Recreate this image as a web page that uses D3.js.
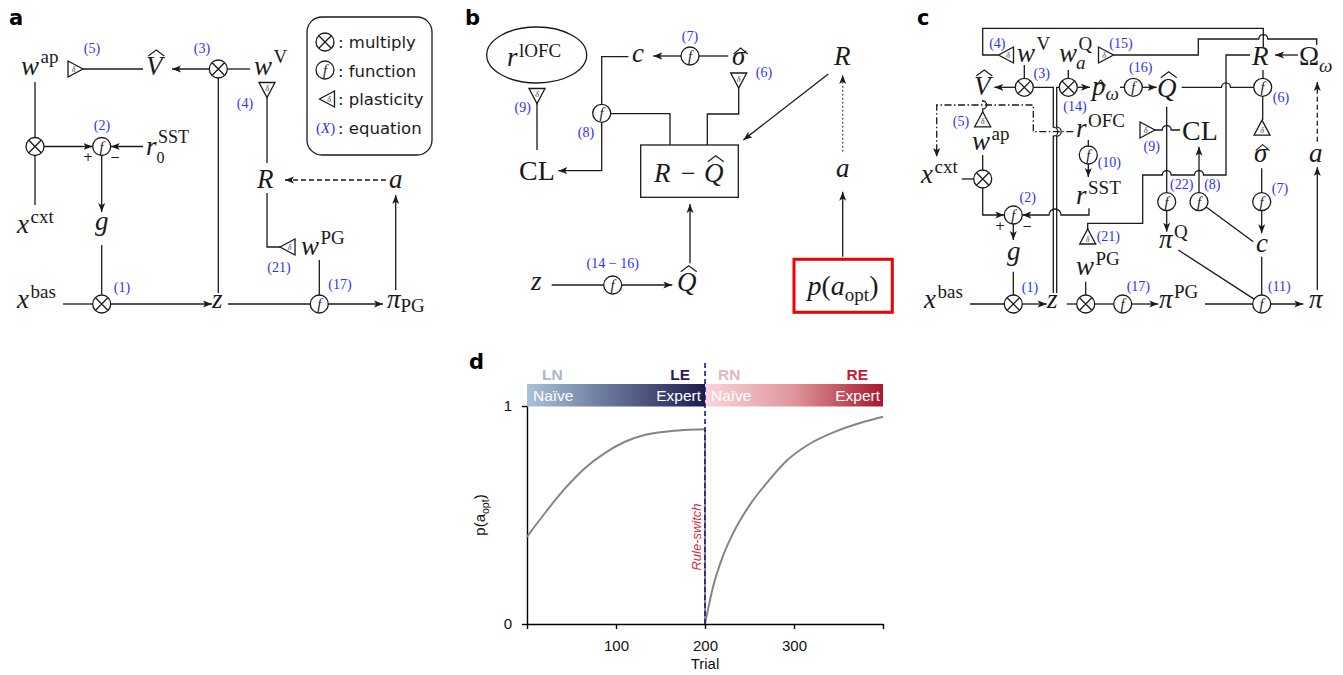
<!DOCTYPE html>
<html>
<head>
<meta charset="utf-8">
<script src="https://cdn.jsdelivr.net/npm/d3@7"></script>
<style>
  body { margin: 0; background: #fff; }
</style>
</head>
<body>
<svg id="fig" width="1343" height="675"></svg>
<script>
// ---- panel d data ----
var trialsLearn = [0, 20, 43, 65, 87, 110, 132, 155, 177, 200];
var pLearn = [0.40, 0.508, 0.623, 0.715, 0.783, 0.836, 0.867, 0.882, 0.890, 0.893];
var trialsReverse = [200, 201, 209, 220, 232, 251, 270, 292, 315, 345, 375, 400];
var pReverse = [0, 0.02, 0.17, 0.31, 0.42, 0.55, 0.65, 0.75, 0.82, 0.88, 0.923, 0.951];
var xTicks = [0, 100, 200, 300, 400];
var xTickLabels = ["", "100", "200", "300", ""];
var yTicks = [0, 1];
var switchTrial = 200;
var stageCodes = ["LN", "LE", "RN", "RE"];
var stageNames = ["Naïve", "Expert", "Naïve", "Expert"];

var svg = d3.select("#fig");
var SERIF = "'Liberation Serif', 'DejaVu Serif', serif";
var SANS = "'DejaVu Sans', sans-serif";
var ARIAL = "'Liberation Sans', Arial, sans-serif";
var INK = "#1a1a1a";
var BLUE = "#2f2fff";

// arrow head
var defs = svg.append("defs");
defs.append("marker")
  .attr("id", "arrow")
  .attr("viewBox", "0 -4 9 8")
  .attr("refX", 9).attr("refY", 0)
  .attr("markerWidth", 9).attr("markerHeight", 8)
  .attr("markerUnits", "userSpaceOnUse")
  .attr("orient", "auto")
  .append("path")
  .attr("d", "M0,-3.5L9,0L0,3.5L2.2,0Z")
  .attr("fill", INK);

// ---- small drawing helpers ----
function wire(g, d, o) {
  o = o || {};
  var p = g.append("path")
    .attr("d", d)
    .attr("fill", "none")
    .attr("stroke", o.color || INK)
    .attr("stroke-width", o.width || 1.3);
  if (o.arrow) p.attr("marker-end", "url(#arrow)");
  if (o.dash) p.attr("stroke-dasharray", o.dash);
  return p;
}

var HR = 4.5;
function hopRight(x, y, r) { r = r || HR; return "L" + (x - r) + "," + y + "A" + r + "," + r + " 0 0 1 " + (x + r) + "," + y; }
function hopLeft(x, y, r) { r = r || HR; return "L" + (x + r) + "," + y + "A" + r + "," + r + " 0 0 0 " + (x - r) + "," + y; }
function hopDown(x, y, r) { r = r || HR; return "L" + x + "," + (y - r) + "A" + r + "," + r + " 0 0 1 " + x + "," + (y + r); }

function mult(g, x, y) {
  g.append("circle").attr("cx", x).attr("cy", y).attr("r", 9)
    .attr("fill", "#fff").attr("stroke", INK).attr("stroke-width", 1.3);
  var k = 6.2;
  wire(g, "M" + (x - k) + "," + (y - k) + "L" + (x + k) + "," + (y + k) +
          "M" + (x - k) + "," + (y + k) + "L" + (x + k) + "," + (y - k));
}

function func(g, x, y) {
  g.append("circle").attr("cx", x).attr("cy", y).attr("r", 9)
    .attr("fill", "#fff").attr("stroke", INK).attr("stroke-width", 1.3);
  g.append("text").attr("x", x).attr("y", y + 5)
    .attr("text-anchor", "middle")
    .attr("font-family", SERIF).attr("font-style", "italic").attr("font-size", 15)
    .attr("fill", INK).text("f");
}

// plasticity triangle, dir = side the apex points to
function plast(g, x, y, dir) {
  var h = 7.5, b = 8, pts, tx = x, ty = y + 3;
  if (dir === "r") { pts = [[x - h, y - b], [x + h, y], [x - h, y + b]]; tx = x - 2; }
  if (dir === "l") { pts = [[x + h, y - b], [x - h, y], [x + h, y + b]]; tx = x + 2; }
  if (dir === "u") { pts = [[x - b, y + h], [x, y - h], [x + b, y + h]]; ty = y + 5; }
  if (dir === "d") { pts = [[x - b, y - h], [x, y + h], [x + b, y - h]]; ty = y + 1; }
  g.append("path").attr("d", "M" + pts.join("L") + "Z")
    .attr("fill", "#fff").attr("stroke", INK).attr("stroke-width", 1.3);
  g.append("text").attr("x", tx).attr("y", ty)
    .attr("text-anchor", "middle")
    .attr("font-family", SERIF).attr("font-style", "italic").attr("font-size", 8)
    .attr("fill", "#333").text("δ");
}

function eq(g, x, y, t) {
  g.append("text").attr("x", x).attr("y", y + 5)
    .attr("text-anchor", "middle")
    .attr("font-family", SERIF).attr("font-size", 14)
    .attr("fill", BLUE).text(t);
}

// math symbol with optional superscript / subscript / hat
function math(g, x, y, base, o) {
  o = o || {};
  var size = o.size || 27;
  var t = g.append("text").attr("x", x).attr("y", y)
    .attr("font-family", SERIF).attr("font-size", size)
    .attr("font-style", o.up ? "normal" : "italic")
    .attr("fill", INK).text(base);
  var w = t.node().getComputedTextLength();
  if (o.sup) {
    g.append("text").attr("x", x + w + (o.supDx || 1.5)).attr("y", y - (o.supDy || 12))
      .attr("font-family", SERIF).attr("font-size", o.supSize || 19)
      .attr("font-style", o.supIt ? "italic" : "normal")
      .attr("fill", INK).text(o.sup);
  }
  if (o.sub) {
    g.append("text").attr("x", x + w + (o.subDx || 0)).attr("y", y + (o.subDy || 6))
      .attr("font-family", SERIF).attr("font-size", o.subSize || 19)
      .attr("font-style", o.subIt ? "italic" : "normal")
      .attr("fill", INK).text(o.sub);
  }
  if (o.hat) {
    var cx = x + w / 2 + (o.up ? 0 : 2), ty = y - o.hat, hw = o.hatW || 8;
    wire(g, "M" + (cx - hw) + "," + (ty + 6) + "L" + cx + "," + ty + "L" + (cx + hw) + "," + (ty + 6), { width: 1.1 });
  }
}

function panelLetter(x, y, t) {
  svg.append("text").attr("x", x).attr("y", y)
    .attr("font-family", SANS).attr("font-weight", "bold").attr("font-size", 21)
    .attr("fill", "#000").text(t);
}

// =================== panel a ===================
var ga = svg.append("g");
panelLetter(9, 25, "a");

// wires
wire(ga, "M83,69L143,69");
wire(ga, "M209,69L172,69", { arrow: true });
wire(ga, "M227,69L250,69");
wire(ga, "M267,163L267,97.5");
wire(ga, "M386,180L285,180", { arrow: true, dash: "5,3" });
wire(ga, "M267,193L267,247L280,247");
wire(ga, "M319.3,260L319.3,295");
wire(ga, "M218.3,78L218.3,293");
wire(ga, "M63,304L92.7,304");
wire(ga, "M110.7,304L212,304", { arrow: true });
wire(ga, "M228,304L310.3,304");
wire(ga, "M328.3,304L383,304", { arrow: true });
wire(ga, "M395.7,290L395.7,195", { arrow: true });
wire(ga, "M101.7,245L101.7,294.3");
wire(ga, "M101.7,155L101.7,212", { arrow: true });
wire(ga, "M35,82L35,137.5");
wire(ga, "M35,155.5L35,205");
wire(ga, "M44,146.5L92.5,146.5", { arrow: true });
wire(ga, "M143,146.5L110.7,146.5", { arrow: true });

// nodes
plast(ga, 75.5, 69, "r");
mult(ga, 218.3, 69);
plast(ga, 267, 90, "d");
plast(ga, 287.5, 247, "l");
func(ga, 319.3, 304);
mult(ga, 101.7, 304);
func(ga, 101.7, 146.5);
mult(ga, 35, 146.5);

ga.append("text").attr("x", 88).attr("y", 161).attr("text-anchor", "middle")
  .attr("font-family", SANS).attr("font-size", 12).attr("fill", INK).text("+");
ga.append("text").attr("x", 115).attr("y", 161).attr("text-anchor", "middle")
  .attr("font-family", SANS).attr("font-size", 12).attr("fill", INK).text("−");

// symbols
math(ga, 21, 75, "w", { sup: "ap" });
math(ga, 146, 75, "V", { hat: 25 });
math(ga, 254, 75, "w", { sup: "V" });
math(ga, 257, 188, "R");
math(ga, 389, 188, "a");
math(ga, 301, 255, "w", { sup: "PG", supDy: 11 });
math(ga, 387, 308, "π", { sub: "PG", subDy: 4 });
math(ga, 212, 308, "z");
math(ga, 17, 308, "x", { sup: "bas", supDy: 10 });
math(ga, 95, 230, "g");
math(ga, 17, 233, "x", { sup: "cxt", supDy: 10 });
math(ga, 146, 155, "r", { sup: "SST", supDy: 12, supSize: 18, sub: "0", subDy: 8, subSize: 16 });

eq(ga, 92, 48, "(5)");
eq(ga, 202, 48, "(3)");
eq(ga, 245, 103, "(4)");
eq(ga, 102, 125, "(2)");
eq(ga, 279, 267, "(21)");
eq(ga, 122, 287, "(1)");
eq(ga, 340, 284, "(17)");

// legend
ga.append("rect").attr("x", 307).attr("y", 17).attr("width", 125).attr("height", 138)
  .attr("rx", 15).attr("fill", "#fff").attr("stroke", INK).attr("stroke-width", 1.3);
mult(ga, 325, 42);
func(ga, 325, 70);
plast(ga, 327, 99, "l");
var legendText = [": multiply", ": function", ": plasticity", ": equation"];
legendText.forEach(function(t, i) {
  ga.append("text").attr("x", 338).attr("y", 48 + i * 28.5)
    .attr("font-family", SANS).attr("font-size", 16.5).attr("fill", INK).text(t);
});
ga.append("text").attr("x", 316).attr("y", 133)
  .attr("font-family", SERIF).attr("font-size", 15).attr("fill", BLUE)
  .html("(<tspan font-style='italic'>X</tspan>)");

// =================== panel b ===================
var gb = svg.append("g");
panelLetter(465, 25, "b");

gb.append("ellipse").attr("cx", 536.7).attr("cy", 55).attr("rx", 50).attr("ry", 28)
  .attr("fill", "#fff").attr("stroke", INK).attr("stroke-width", 1.3);
math(gb, 507, 66, "r", { sup: "lOFC", supDy: 9 });

wire(gb, "M537,150L537,103");
wire(gb, "M601.7,122.3L601.7,170.7L558.3,170.7", { arrow: true });
wire(gb, "M628.3,56.7L601.7,56.7L601.7,104.3");
wire(gb, "M681,56L653.3,56", { arrow: true });
wire(gb, "M728.3,56L699,56");
wire(gb, "M738.7,88L738.7,114L707.3,114L707.3,145");
wire(gb, "M610.7,113.7L670,113.7L670,145");
wire(gb, "M828.3,74L743.3,140", { arrow: true });
wire(gb, "M842.7,151.7L842.7,75", { arrow: true, dash: "2,2", color: "#555" });
wire(gb, "M842.7,256.7L842.7,191.7", { arrow: true });
wire(gb, "M551.7,285L603.7,285");
wire(gb, "M621.7,285L672.3,285", { arrow: true });
wire(gb, "M690,263.3L690,204", { arrow: true });

plast(gb, 537, 96, "d");
func(gb, 601.7, 113.3);
func(gb, 690, 56);
plast(gb, 738.7, 80.5, "d");
func(gb, 612.7, 285);

gb.append("rect").attr("x", 640.7).attr("y", 145).attr("width", 97.6).attr("height", 52.3)
  .attr("fill", "#fff").attr("stroke", INK).attr("stroke-width", 1.3);
gb.append("rect").attr("x", 794).attr("y", 259.3).attr("width", 98.3).attr("height", 53)
  .attr("fill", "#fff").attr("stroke", "#ee0000").attr("stroke-width", 3);

math(gb, 519, 180, "CL", { up: true, size: 28 });
math(gb, 632, 62, "c");
math(gb, 732, 65, "σ", { hat: 17, hatW: 7 });
math(gb, 834, 65, "R");
math(gb, 836, 177, "a");
math(gb, 654, 181.7, "R");
gb.append("text").attr("x", 681).attr("y", 181.7)
  .attr("font-family", SERIF).attr("font-size", 26).attr("fill", INK).text("−");
math(gb, 704, 181.7, "Q", { hat: 26 });
math(gb, 531, 290, "z");
math(gb, 677, 290.7, "Q", { hat: 25 });
gb.append("text").attr("x", 843).attr("y", 295).attr("text-anchor", "middle")
  .attr("font-family", SERIF).attr("font-size", 28).attr("fill", INK)
  .html("<tspan font-style='italic'>p</tspan>(<tspan font-style='italic'>a</tspan>" +
        "<tspan font-size='19' dy='6'>opt</tspan><tspan dy='-6'>)</tspan>");

eq(gb, 522.7, 107, "(9)");
eq(gb, 586, 132, "(8)");
eq(gb, 690, 36, "(7)");
eq(gb, 764, 72, "(6)");
eq(gb, 612.7, 263, "(14 − 16)");

// =================== panel c ===================
var gc = svg.append("g");
panelLetter(917, 25, "c");

// long routed wires
wire(gc, "M998.3,55L982.7,55L982.7,28.3L1263.3,28.3L1263.3,47");
wire(gc, "M1316.7,45L1316.7,39" + hopLeft(1263.3, 39) + "L1198.3,39L1198.3,55L1113.3,55");
wire(gc, "M1298,55L1275,55", { arrow: true });
wire(gc, "M1250,55L1226,55L1226,175" + hopLeft(1199, 175) + hopLeft(1166.7, 175) +
         "L1142.7,175L1142.7,223.3L1087.7,223.3L1087.7,229");
wire(gc, "M1263,70L1263,78.3");
wire(gc, "M1181.7,87.3" + hopRight(1226, 87.3) + "L1253.7,87.3");
wire(gc, "M1262.7,96.3L1262.7,120");
wire(gc, "M1261.7,168.3L1261.7,192.7");
wire(gc, "M1261.7,210.7L1261.7,233.3", { arrow: true });
wire(gc, "M1261.7,256.7L1261.7,295");
wire(gc, "M1253.3,241.7L1206.2,207.1");
wire(gc, "M1199,192.7L1199,146.7", { arrow: true });
wire(gc, "M1166.7,106.7L1166.7,192.7");
wire(gc, "M1166.7,210.7L1166.7,231.7", { arrow: true });
wire(gc, "M1178.3,250L1254.1,299.1");
wire(gc, "M1155,130" + hopRight(1166.7, 130) + "L1180,130");
wire(gc, "M1142.3,87.3L1156.7,87.3", { arrow: true });
wire(gc, "M1120,87.3L1124.3,87.3");
wire(gc, "M1077.3,87.3L1090,87.3", { arrow: true });
wire(gc, "M1068.3,70L1068.3,78.3");
wire(gc, "M1024.3,65L1024.3,78.3");
wire(gc, "M1015.3,87.3L994.3,87.3", { arrow: true });
// double line from z
wire(gc, "M1033.3,87.3L1053.3,87.3" + hopDown(1053.3, 131.7) + "L1053.3,293");
wire(gc, "M1059.3,87.3L1056.7,87.3" + hopDown(1056.7, 131.7) + "L1056.7,293");
wire(gc, "M982.7,100" + hopDown(982.7, 105, 4) + "L982.7,111.7");
wire(gc, "M1073.3,131.7L1033.3,131.7L1033.3,105L936.7,105L936.7,157", { arrow: true, dash: "7,2.5,1.5,2.5" });
wire(gc, "M982.7,155L982.7,170");
wire(gc, "M961.7,179L973.7,179");
wire(gc, "M982.7,188L982.7,215L1004.3,215", { arrow: true });
wire(gc, "M1088.3,140L1088.3,146");
wire(gc, "M1088.3,164L1088.3,177", { arrow: true });
wire(gc, "M1089,208.3L1089,215" + hopLeft(1055, 215, 6) + "L1022.3,215", { arrow: true });
wire(gc, "M1013.3,224L1013.3,240", { arrow: true });
wire(gc, "M1013.3,271.7L1013.3,295");
wire(gc, "M970,304L1004.3,304");
wire(gc, "M1022.3,304L1046.7,304", { arrow: true });
wire(gc, "M1066.7,304L1076.7,304");
wire(gc, "M1085.7,281.7L1085.7,295");
wire(gc, "M1094.7,304L1113.7,304");
wire(gc, "M1131.7,304L1158.3,304", { arrow: true });
wire(gc, "M1205,304L1252.7,304");
wire(gc, "M1270.7,304L1303.3,304", { arrow: true });
wire(gc, "M1317.3,290L1317.3,167", { arrow: true });
wire(gc, "M1317.3,141.7L1317.3,82", { arrow: true, dash: "5,3" });

// operators
mult(gc, 1024.3, 87.3);
mult(gc, 1068.3, 87.3);
func(gc, 1133.3, 87.3);
func(gc, 1262.7, 87.3);
func(gc, 1088.3, 155);
mult(gc, 982.7, 179);
func(gc, 1013.3, 215);
func(gc, 1166.7, 201.7);
func(gc, 1199, 201.7);
func(gc, 1261.7, 201.7);
mult(gc, 1013.3, 304);
mult(gc, 1085.7, 304);
func(gc, 1122.7, 304);
func(gc, 1261.7, 304);

plast(gc, 1006, 55, "l");
plast(gc, 1106, 55, "r");
plast(gc, 982.7, 119.3, "u");
plast(gc, 1147.5, 130, "r");
plast(gc, 1262, 127.7, "u");
plast(gc, 1087.7, 236.5, "u");

gc.append("text").attr("x", 1000).attr("y", 230).attr("text-anchor", "middle")
  .attr("font-family", SANS).attr("font-size", 12).attr("fill", INK).text("+");
gc.append("text").attr("x", 1027).attr("y", 230).attr("text-anchor", "middle")
  .attr("font-family", SANS).attr("font-size", 12).attr("fill", INK).text("−");

// symbols
math(gc, 1017, 61.7, "w", { sup: "V" });
math(gc, 1059, 61.7, "w", { sup: "Q", sub: "a", subIt: true, subDx: -1, subDy: 7 });
math(gc, 974, 95, "V", { hat: 25 });
math(gc, 1092, 95, "p", { sub: "ω", subIt: true, subDy: 5, hat: 15, hatW: 5 });
math(gc, 1157, 96.7, "Q", { hat: 25 });
math(gc, 1252, 65, "R");
math(gc, 1299, 65, "Ω", { up: true, sub: "ω", subIt: true, subDy: 7 });
math(gc, 1076, 136.7, "r", { sup: "OFC", supDy: 10 });
math(gc, 1182, 140, "CL", { up: true, size: 28 });
math(gc, 1254, 161.7, "σ", { hat: 17, hatW: 7 });
math(gc, 1309, 161.7, "a");
math(gc, 972, 150, "w", { sup: "ap", supDy: 10 });
math(gc, 921, 183, "x", { sup: "cxt", supDy: 10 });
math(gc, 1076, 204, "r", { sup: "SST", supDy: 10 });
math(gc, 1007, 260, "g");
math(gc, 1159, 248.3, "π", { sup: "Q", supDy: 10 });
math(gc, 1256, 251.7, "c");
math(gc, 1076, 275, "w", { sup: "PG", supDy: 10 });
math(gc, 924, 308, "x", { sup: "bas", supDy: 10 });
math(gc, 1047, 308, "z");
math(gc, 1159, 308, "π", { sup: "PG", supDy: 10 });
math(gc, 1309, 308, "π");

eq(gc, 997.3, 43.3, "(4)");
eq(gc, 1041.7, 72.7, "(3)");
eq(gc, 1121, 43.3, "(15)");
eq(gc, 1140.7, 66.7, "(16)");
eq(gc, 1075, 106, "(14)");
eq(gc, 1281, 97.3, "(6)");
eq(gc, 961, 120.7, "(5)");
eq(gc, 1151.7, 146, "(9)");
eq(gc, 1109.3, 161.7, "(10)");
eq(gc, 1027.7, 196.7, "(2)");
eq(gc, 1181.7, 184.3, "(22)");
eq(gc, 1212.3, 184.3, "(8)");
eq(gc, 1280, 188.3, "(7)");
eq(gc, 1108.3, 235.7, "(21)");
eq(gc, 1030, 287.3, "(1)");
eq(gc, 1138.3, 285.7, "(17)");
eq(gc, 1279.3, 285.7, "(11)");

// =================== panel d ===================
var gd = svg.append("g");
panelLetter(469, 369, "d");

var x = d3.scaleLinear().domain([0, 400]).range([527, 883]);
var y = d3.scaleLinear().domain([0, 1]).range([624, 406]);

// stage gradients
var gradL = defs.append("linearGradient").attr("id", "gradL");
gradL.append("stop").attr("offset", "0%").attr("stop-color", "#a9c2d9");
gradL.append("stop").attr("offset", "100%").attr("stop-color", "#1d1c4e");
var gradR = defs.append("linearGradient").attr("id", "gradR");
gradR.append("stop").attr("offset", "0%").attr("stop-color", "#fad6da");
gradR.append("stop").attr("offset", "50%").attr("stop-color", "#df959c");
gradR.append("stop").attr("offset", "100%").attr("stop-color", "#a6192b");

gd.append("rect").attr("x", x(0)).attr("y", 384)
  .attr("width", x(switchTrial) - x(0)).attr("height", 22.5).attr("fill", "url(#gradL)");
gd.append("rect").attr("x", x(switchTrial)).attr("y", 384)
  .attr("width", x(400) - x(switchTrial)).attr("height", 22.5).attr("fill", "url(#gradR)");

var stageColors = ["#aab5cf", "#1f2154", "#e2b6bd", "#c8192f"];
var codeX = [x(0) + 15, x(switchTrial) - 15, x(switchTrial) + 13, x(400) - 15];
var codeAnchor = ["start", "end", "start", "end"];
var nameX = [x(0) + 6, x(switchTrial) - 4, x(switchTrial) + 6, x(400) - 3];
stageCodes.forEach(function(c, i) {
  gd.append("text").attr("x", codeX[i]).attr("y", 380)
    .attr("text-anchor", codeAnchor[i])
    .attr("font-family", ARIAL).attr("font-weight", "bold").attr("font-size", 15.5)
    .attr("fill", stageColors[i]).text(c);
  gd.append("text").attr("x", nameX[i]).attr("y", 401)
    .attr("text-anchor", codeAnchor[i])
    .attr("font-family", ARIAL).attr("font-size", 15.5)
    .attr("fill", "#fff").text(stageNames[i]);
});

// axes
var xAxis = gd.append("g")
  .attr("transform", "translate(0," + y(0) + ")")
  .call(d3.axisBottom(x).tickValues(xTicks)
    .tickFormat(function(d, i) { return xTickLabels[i]; })
    .tickSize(5).tickSizeOuter(0).tickPadding(11));
var yAxis = gd.append("g")
  .attr("transform", "translate(" + x(0) + ",0)")
  .call(d3.axisLeft(y).tickValues(yTicks).tickFormat(d3.format("d"))
    .tickSize(5).tickSizeOuter(0).tickPadding(10));
[xAxis, yAxis].forEach(function(a) {
  a.selectAll("path, line").attr("stroke", "#000").attr("stroke-width", 1.4);
  a.selectAll("text").attr("font-family", ARIAL).attr("font-size", 15).attr("fill", "#111");
});

gd.append("text").attr("x", x(switchTrial)).attr("y", 669)
  .attr("text-anchor", "middle")
  .attr("font-family", ARIAL).attr("font-size", 15).attr("fill", "#111").text("Trial");
gd.append("text").attr("transform", "translate(485,515) rotate(-90)")
  .attr("text-anchor", "middle")
  .attr("font-family", ARIAL).attr("font-size", 15).attr("fill", "#111")
  .html("p(a<tspan font-size='10.5' dy='4'>opt</tspan><tspan dy='-4'>)</tspan>");

// learning curves
var curve = d3.line()
  .x(function(d) { return x(d[0]); })
  .y(function(d) { return y(d[1]); })
  .curve(d3.curveMonotoneX);
var learn = trialsLearn.map(function(t, i) { return [t, pLearn[i]]; });
var reverse = trialsReverse.map(function(t, i) { return [t, pReverse[i]]; });
gd.append("path").attr("d", curve(learn))
  .attr("fill", "none").attr("stroke", "#858585").attr("stroke-width", 2);
gd.append("path").attr("d", curve(reverse))
  .attr("fill", "none").attr("stroke", "#858585").attr("stroke-width", 2);
gd.append("path").attr("d", d3.line()([[x(switchTrial), y(pLearn[pLearn.length - 1])], [x(switchTrial), y(0)]]))
  .attr("fill", "none").attr("stroke", "#858585").attr("stroke-width", 2);

// rule switch marker
gd.append("line")
  .attr("x1", x(switchTrial)).attr("x2", x(switchTrial))
  .attr("y1", 363).attr("y2", y(0))
  .attr("stroke", "#1a1a8c").attr("stroke-width", 1.6).attr("stroke-dasharray", "5,3");
gd.append("text").attr("transform", "translate(" + (x(switchTrial) - 4) + ",537) rotate(-90)")
  .attr("text-anchor", "middle")
  .attr("font-family", ARIAL).attr("font-style", "italic").attr("font-size", 13)
  .attr("fill", "#d42a3e").text("Rule-switch");
</script>
</body>
</html>
